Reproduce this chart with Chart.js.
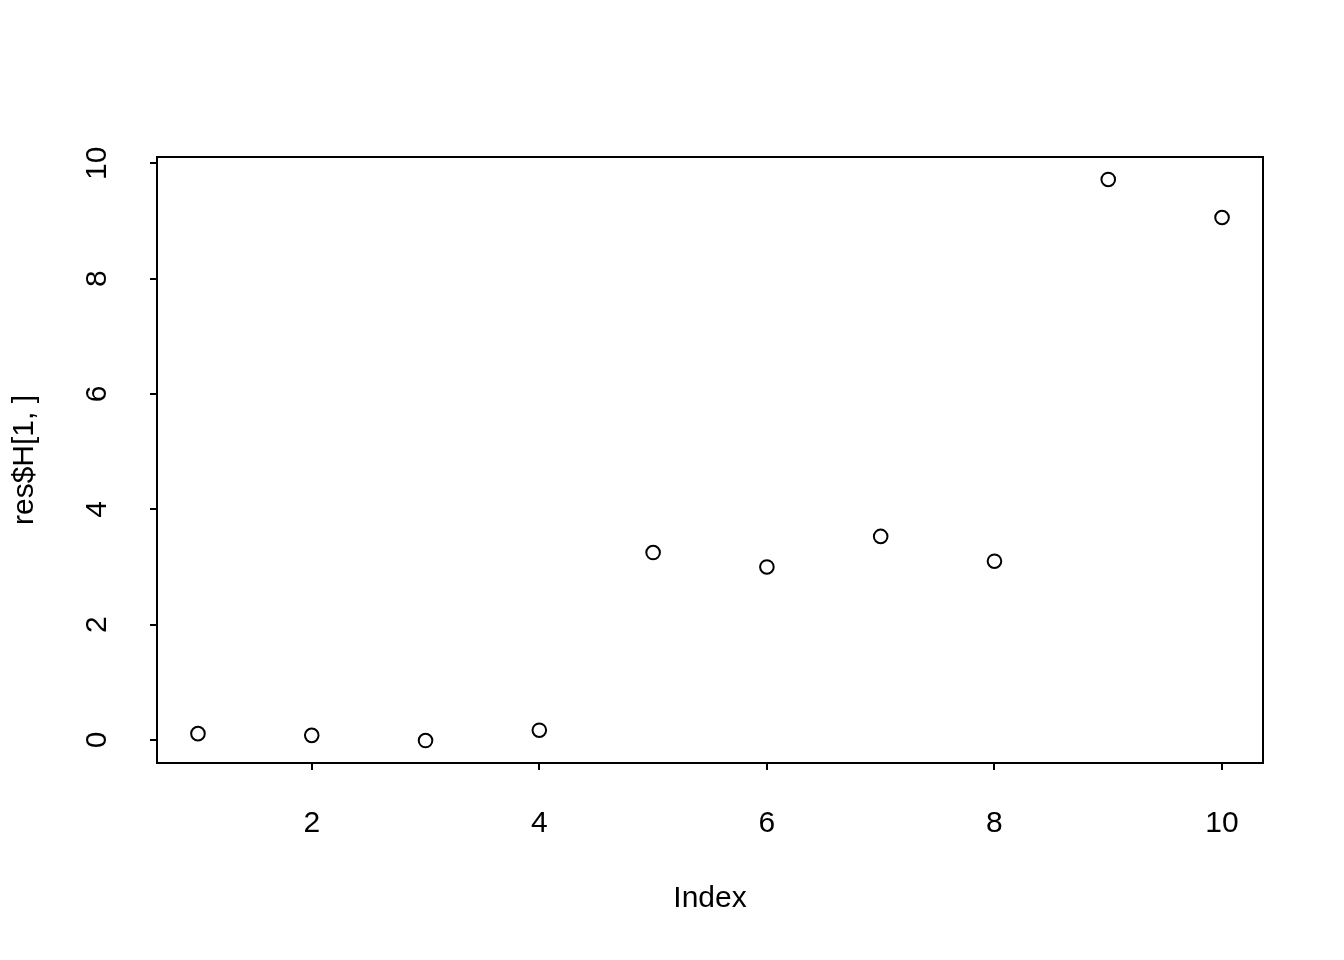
<!DOCTYPE html>
<html>
<head>
<meta charset="utf-8">
<script src="https://cdn.jsdelivr.net/npm/chart.js@4.4.0/dist/chart.umd.min.js"></script>
<style>
  body { margin: 0; background: #fff; }
  #wrap { width: 1344px; height: 960px; }
</style>
</head>
<body>
<div id="wrap"><canvas id="plot"></canvas></div>
<script>
// values
var indexVals = [1, 2, 3, 4, 5, 6, 7, 8, 9, 10];
var hVals = [0.11, 0.08, -0.01, 0.17, 3.25, 3.00, 3.53, 3.10, 9.72, 9.06];
var xTicks = [2, 4, 6, 8, 10];
var yTicks = [0, 2, 4, 6, 8, 10];
var xTitle = 'Index';
var yTitle = 'res$H[1, ]';

// R extends the data range by 4% on each side
function rRange(arr){
  var lo = Math.min.apply(null, arr), hi = Math.max.apply(null, arr);
  var pad = (hi - lo) * 0.04;
  return [lo - pad, hi + pad];
}
var xr = rRange(indexVals);
var yr = rRange(hVals);

var points = indexVals.map(function(v, i){ return {x: v, y: hVals[i]}; });

Chart.defaults.font.family = "'Liberation Sans', Arial, sans-serif";
Chart.defaults.color = '#000';

// box around the plot region + axis titles
var boxPlugin = {
  id: 'rbox',
  afterDraw: function(chart){
    var a = chart.chartArea, ctx = chart.ctx;
    ctx.save();
    ctx.strokeStyle = '#000';
    ctx.lineWidth = 2;
    ctx.strokeRect(a.left, a.top, a.right - a.left, a.bottom - a.top);
    ctx.fillStyle = '#000';
    ctx.font = "30px 'Liberation Sans', Arial, sans-serif";
    ctx.textAlign = 'center';
    ctx.textBaseline = 'alphabetic';
    ctx.fillText(xTitle, (a.left + a.right) / 2, 907);
    ctx.translate(33, (a.top + a.bottom) / 2);
    ctx.rotate(-Math.PI / 2);
    ctx.fillText(yTitle, 0, 0);
    ctx.restore();
  }
};

var ctx = document.getElementById('plot').getContext('2d');
var myChart = new Chart(ctx, {
  type: 'scatter',
  data: {
    datasets: [{
      label: 'res$H[1, ]',
      data: points,
      pointStyle: 'circle',
      pointRadius: 6.8,
      pointHoverRadius: 6.8,
      borderColor: '#000',
      backgroundColor: 'rgba(0,0,0,0)',
      borderWidth: 2,
      showLine: false
    }]
  },
  options: {
    responsive: true,
    maintainAspectRatio: false,
    animation: false,
    layout: { padding: { top: 157, right: 81, left: 0, bottom: 0 } },
    plugins: { legend: { display: false }, tooltip: { enabled: false } },
    scales: {
      x: {
        type: 'linear',
        min: xr[0],
        max: xr[1],
        afterBuildTicks: function(scale){
          scale.ticks = xTicks.map(function(v){ return {value: v}; });
        },
        afterFit: function(scale){ scale.height = 197; },
        grid: { display: true, drawOnChartArea: false, drawTicks: true, tickLength: 7, color: '#000', lineWidth: 2 },
        border: { display: false },
        ticks: { font: { size: 30 }, padding: 36, maxRotation: 0, color: '#000' }
      },
      y: {
        type: 'linear',
        min: yr[0],
        max: yr[1],
        afterBuildTicks: function(scale){
          scale.ticks = yTicks.map(function(v){ return {value: v}; });
        },
        afterFit: function(scale){ scale.width = 157; },
        grid: { display: true, drawOnChartArea: false, drawTicks: true, tickLength: 7, color: '#000', lineWidth: 2 },
        border: { display: false },
        ticks: { font: { size: 30 }, padding: 36, minRotation: 90, maxRotation: 90, crossAlign: 'center', color: '#000' }
      }
    }
  },
  plugins: [boxPlugin]
});
</script>
</body>
</html>
